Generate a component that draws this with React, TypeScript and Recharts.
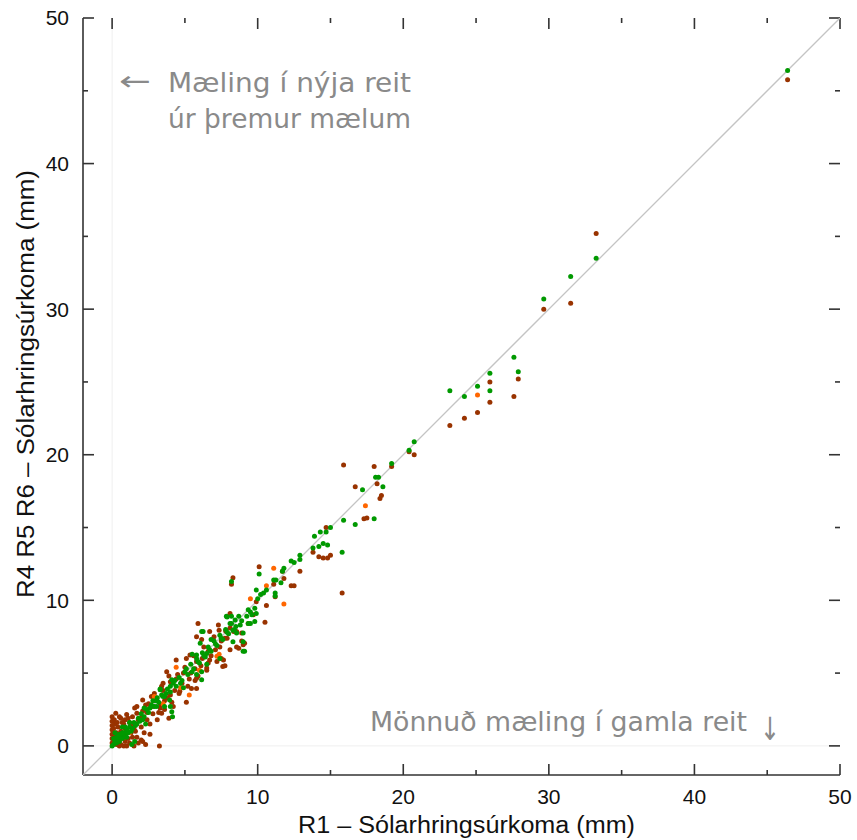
import React from "react";
import {
  ScatterChart,
  Scatter,
  XAxis,
  YAxis,
  ReferenceLine,
} from "recharts";

// colours
const BROWN = "#993300";
const ORANGE = "#ff6600";
const GREEN = "#009900";
const FRAME = "#333333";
const NOTE = "#8a8a8a";

const DOMAIN: [number, number] = [-2, 50];
const MAJOR_TICKS = [0, 10, 20, 30, 40, 50];
const MINOR_TICKS = [5, 15, 25, 35, 45];
const DIAGONAL = [
  { x: -2, y: -2 },
  { x: 50, y: 50 },
];

// inward tick length, in axis units (~11px and ~5px at this size)
const MAJOR_LEN = 0.755;
const MINOR_LEN = 0.343;

const X_TITLE = "R1 – Sólarhringsúrkoma (mm)";
const Y_TITLE = "R4 R5 R6 – Sólarhringsúrkoma (mm)";

// [R1, Rn] pairs in mm
const R4: [number, number][] = [
  [46.4, 45.75], [33.25, 35.2], [31.5, 30.4], [29.65, 30.0], [27.9, 25.2],
  [27.6, 24.0], [25.95, 25.0], [25.95, 23.6], [25.1, 22.9], [24.2, 22.5],
  [23.2, 22.0], [20.4, 20.2], [20.75, 20.0], [19.2, 19.2], [18.0, 19.2],
  [15.9, 19.3], [18.2, 18.0], [16.7, 17.8], [18.5, 17.2], [18.4, 17.0],
  [17.3, 15.6], [17.5, 15.65], [14.7, 15.0], [13.8, 13.3], [14.2, 13.0],
  [14.5, 12.9], [14.8, 12.9], [15.0, 13.1], [15.8, 10.5], [12.9, 12.0],
  [12.3, 11.0], [12.5, 11.0], [11.7, 12.0], [10.1, 12.3], [11.8, 11.5],
  [11.1, 11.1], [11.2, 10.25], [8.3, 11.55], [8.2, 11.1], [8.1, 9.1],
  [9.9, 9.9], [10.6, 9.65], [9.7, 9.0], [10.5, 8.5], [9.35, 8.4],
  [5.9, 8.4], [7.3, 8.3], [8.1, 8.1], [8.35, 7.85], [7.9, 7.4],
  [8.55, 7.85], [5.8, 7.5], [8.9, 7.2], [9.0, 6.95], [8.7, 6.7],
  [8.55, 6.8], [7.5, 6.0], [7.6, 5.45], [6.7, 5.9], [6.6, 5.7],
  [5.8, 5.8], [4.4, 5.9], [5.1, 6.0], [5.7, 4.5], [5.8, 3.95],
  [5.1, 3.0], [3.9, 1.9], [3.3, 2.6], [3.4, 2.25], [2.0, 0.4],
  [2.1, 0.3], [3.25, 0.0], [0.25, 2.25], [1.0, 2.15], [0.9, 1.8],
  [1.55, 2.6], [1.7, 2.25], [0, 0.2], [0, 0.5], [0, 0.8],
  [0, 1.1], [0, 1.4], [0, 1.7], [0, 2.0], [0.1, 0.3],
  [0.1, 1.2], [0.2, 0.6], [0.2, 1.5], [0.3, 0.1], [0.3, 0.9],
  [0.4, 1.3], [0.5, 0.0], [0.5, 0.4], [0.6, 1.0], [0.7, 1.6],
  [0.8, 0.0], [0.8, 0.6], [0.9, 1.2], [1.0, 0.0], [1.1, 0.5],
  [1.2, 1.6], [1.3, 0.9], [1.4, 2.0], [1.5, 0.0], [1.5, 1.2],
  [1.7, 0.6], [1.8, 1.8], [2.0, 1.3], [2.1, 2.4], [2.2, 0.9],
  [2.4, 1.8], [2.5, 2.9], [2.6, 1.5], [2.8, 2.2], [3.0, 3.3],
  [3.1, 1.8], [3.3, 2.9], [3.5, 3.8], [3.6, 2.5], [3.8, 3.3],
  [4.0, 4.4], [4.1, 3.0], [4.3, 3.8], [4.5, 4.9], [4.6, 3.6],
  [4.8, 4.3], [5.0, 5.4], [5.2, 4.1], [5.4, 5.0], [5.6, 6.2],
  [5.9, 4.8], [6.1, 5.5], [6.3, 6.8], [6.5, 5.2], [6.8, 6.2],
  [7.0, 7.5], [7.2, 5.8], [7.4, 6.8], [7.8, 7.9], [1.0, 1.0],
  [2.3, 2.8], [0.6, 1.9], [7.35, 7.95], [6.7, 7.85], [6.15, 7.3],
  [5.35, 6.25], [3.75, 5.1], [3.5, 4.3], [3.4, 4.1], [2.1, 3.15],
  [2.7, 3.4], [3.05, 3.15], [1.7, 2.7], [4.2, 2.7], [4.65, 3.75],
  [5.45, 3.95], [5.8, 4.65], [6.5, 5.35], [7.65, 5.9], [7.75, 5.5],
  [8.1, 6.6], [9.1, 7.05], [8.9, 7.75], [7.75, 7.4], [0.4, 0.2],
  [0.6, 0.1], [0.9, 0.3], [1.2, 0.2], [1.4, 0.6], [1.8, 0.2],
  [2.3, 0.1], [2.6, 0.8], [0.15, 1.8], [0.35, 1.6], [0.5, 2.0],
  [0.8, 1.5], [1.1, 1.9], [1.3, 1.4], [1.6, 1.0], [2.0, 1.9],
  [2.4, 2.3], [2.8, 2.7], [3.2, 2.3], [3.6, 3.1], [4.0, 3.5],
  [4.4, 4.6], [4.9, 5.0], [5.3, 4.6], [5.7, 5.3], [6.2, 6.0],
  [6.6, 6.5], [7.1, 6.6], [7.5, 7.2], [2.9, 3.6], [3.9, 4.8],
];

const R5: [number, number][] = [
  [25.1, 24.1], [17.4, 16.5], [11.1, 12.2], [10.6, 11.0], [11.8, 9.74],
  [9.5, 10.1], [7.2, 6.15], [7.35, 6.3], [4.4, 5.4], [5.3, 3.5],
  [2.9, 3.4], [1.2, 0.9], [0.5, 0.6], [3.5, 2.9], [6.0, 5.2],
  [4.7, 4.0],
];

const R6: [number, number][] = [
  [46.4, 46.4], [33.25, 33.5], [31.5, 32.25], [29.65, 30.7], [27.6, 26.7],
  [27.9, 25.7], [25.95, 25.6], [25.95, 24.4], [25.1, 24.7], [24.2, 24.0],
  [23.2, 24.4], [20.75, 20.9], [20.4, 20.3], [19.2, 19.4], [18.1, 18.45],
  [18.3, 18.45], [17.2, 17.6], [18.6, 17.8], [18.0, 15.6], [16.7, 15.2],
  [15.9, 15.5], [15.0, 15.0], [14.7, 14.7], [14.3, 14.7], [13.9, 14.4],
  [14.5, 13.9], [14.8, 13.8], [14.2, 13.7], [13.8, 13.6], [15.8, 13.3],
  [12.9, 13.1], [12.9, 12.8], [12.3, 12.7], [12.5, 12.6], [11.8, 12.2],
  [11.7, 12.0], [10.1, 11.8], [11.25, 11.4], [11.1, 11.4], [11.2, 10.5],
  [11.2, 10.3], [11.6, 11.2], [8.2, 11.3], [9.9, 10.7], [10.2, 10.4],
  [10.4, 10.5], [10.6, 10.7], [10.0, 10.1], [9.8, 9.45], [9.5, 9.2],
  [9.35, 9.35], [7.9, 8.85], [8.2, 8.9], [9.6, 9.0], [9.9, 9.1],
  [9.25, 8.9], [9.8, 8.55], [9.5, 8.4], [8.8, 8.3], [8.4, 8.0],
  [9.0, 7.75], [6.25, 7.85], [6.8, 7.3], [9.0, 6.5], [6.15, 5.1],
  [4.0, 2.7], [4.1, 2.35], [4.15, 2.0], [1.55, 0.3], [1.35, 0.1],
  [0, 0], [0.1, 0.1], [0.2, 0.3], [0.3, 0.2], [0.4, 0.5],
  [0.5, 0.3], [0.6, 0.7], [0.7, 0.5], [0.8, 0.9], [0.9, 0.7],
  [1.0, 1.1], [1.1, 0.9], [1.2, 1.3], [1.4, 1.2], [1.5, 1.6],
  [1.6, 1.4], [1.8, 1.9], [1.9, 1.7], [2.0, 2.2], [2.2, 2.0],
  [2.4, 2.5], [2.5, 2.3], [2.7, 2.8], [2.9, 2.7], [3.0, 3.1],
  [3.2, 3.0], [3.4, 3.5], [3.6, 3.4], [3.8, 3.9], [4.0, 3.7],
  [4.2, 4.3], [4.4, 4.1], [4.6, 4.7], [4.8, 4.5], [5.0, 5.1],
  [5.2, 4.9], [5.4, 5.6], [5.6, 5.3], [5.8, 6.0], [6.0, 5.7],
  [6.2, 6.4], [6.4, 6.1], [6.6, 6.8], [6.8, 6.5], [7.0, 7.2],
  [7.2, 6.9], [7.4, 7.6], [7.6, 7.3], [7.8, 8.0], [8.0, 7.7],
  [8.2, 8.4], [8.5, 8.2], [8.7, 8.9], [8.9, 8.6], [5.5, 6.3],
  [3.3, 3.9], [2.3, 1.5], [4.9, 4.0], [6.5, 5.6], [0.2, 0.9],
  [0.7, 1.3], [7.85, 8.9], [8.1, 8.4], [8.45, 8.65], [9.35, 8.4],
  [8.3, 7.95], [8.55, 7.75], [9.0, 7.15], [9.1, 6.5], [8.3, 7.15],
  [6.15, 7.85], [6.05, 7.05], [6.5, 6.35], [5.8, 6.25], [7.4, 6.0],
  [5.8, 4.9], [6.15, 4.55], [4.1, 4.55], [4.0, 4.1], [3.3, 3.85],
  [3.5, 3.4], [3.95, 3.15], [3.6, 2.7], [3.05, 2.7], [0.1, 0.5],
  [0.3, 0.6], [0.5, 0.8], [0.7, 0.9], [1.0, 0.6], [1.3, 1.0],
  [1.7, 1.5], [2.1, 1.8], [2.6, 2.6], [3.1, 3.3], [3.7, 3.6],
  [4.3, 4.5], [4.7, 4.3], [5.1, 5.3], [5.5, 5.1], [5.9, 5.8],
  [6.3, 6.2], [6.7, 6.6], [7.1, 7.0], [7.5, 7.4], [7.9, 7.8],
  [2.2, 2.6], [2.8, 3.1], [1.2, 1.6], [0.9, 1.3],
];

const toPoints = (rows: [number, number][]) =>
  rows.map(([x, y]) => ({ x, y }));

const [LO, HI] = DOMAIN;

// tick marks on all four sides of the box, pointing inwards
const tickSegments = [
  ...MAJOR_TICKS.map((t) => ({ t, len: MAJOR_LEN })),
  ...MINOR_TICKS.map((t) => ({ t, len: MINOR_LEN })),
].flatMap(({ t, len }) => [
  [{ x: t, y: LO }, { x: t, y: LO + len }],
  [{ x: t, y: HI }, { x: t, y: HI - len }],
  [{ x: LO, y: t }, { x: LO + len, y: t }],
  [{ x: HI, y: t }, { x: HI - len, y: t }],
]);

const tickFont = {
  fontFamily: "'Liberation Sans', Arial, sans-serif",
  fontSize: 21,
  fill: "#111",
};

const frameLine = { stroke: FRAME, strokeWidth: 1.6 };

const dot = (color: string) => (props: any) =>
  <circle cx={props.cx} cy={props.cy} r={2.5} fill={color} />;

const noteStyle = {
  fontFamily: "'DejaVu Sans', sans-serif",
  fontSize: 27,
  fill: NOTE,
};

const titleStyle = {
  fontFamily: "'Liberation Sans', Arial, sans-serif",
  fontSize: 23,
  fill: "#111",
};

export default function App() {
  return (
    <div style={{ position: "absolute", left: 0, top: 0, width: 857, height: 840 }}>
      <ScatterChart
        width={857}
        height={840}
        margin={{ top: 18, right: 17, bottom: 0, left: 0 }}
      >
        <XAxis
          type="number"
          dataKey="x"
          domain={DOMAIN}
          ticks={MAJOR_TICKS}
          allowDataOverflow
          interval={0}
          height={65}
          tickSize={0}
          tickMargin={14}
          tickLine={false}
          tick={tickFont}
          axisLine={frameLine}
        />
        <YAxis
          type="number"
          dataKey="y"
          domain={DOMAIN}
          ticks={MAJOR_TICKS}
          allowDataOverflow
          interval={0}
          width={83}
          tickSize={0}
          tickMargin={14}
          tickLine={false}
          tick={tickFont}
          axisLine={frameLine}
        />
        <XAxis
          xAxisId="top"
          orientation="top"
          type="number"
          dataKey="x"
          domain={DOMAIN}
          allowDataOverflow
          height={0}
          tick={false}
          tickLine={false}
          axisLine={frameLine}
        />
        <YAxis
          yAxisId="right"
          orientation="right"
          type="number"
          dataKey="y"
          domain={DOMAIN}
          allowDataOverflow
          width={0}
          tick={false}
          tickLine={false}
          axisLine={frameLine}
        />
        <ReferenceLine x={0} stroke="#efefef" strokeWidth={1} />
        <ReferenceLine y={0} stroke="#efefef" strokeWidth={1} />
        {/* the frame ticks go on the top/right axes (same domain), which draw reliably */}
        {tickSegments.map((seg, i) => (
          <ReferenceLine
            key={i}
            xAxisId="top"
            yAxisId="right"
            segment={seg}
            ifOverflow="visible"
            stroke={FRAME}
            strokeWidth={1.6}
          />
        ))}
        <Scatter
          data={DIAGONAL}
          xAxisId="top"
          yAxisId="right"
          line={{ stroke: "#c4c4c4", strokeWidth: 1.3 }}
          shape={() => <g />}
          isAnimationActive={false}
        />
        <Scatter name="R4" data={toPoints(R4)} shape={dot(BROWN)} isAnimationActive={false} />
        <Scatter name="R5" data={toPoints(R5)} shape={dot(ORANGE)} isAnimationActive={false} />
        <Scatter name="R6" data={toPoints(R6)} shape={dot(GREEN)} isAnimationActive={false} />
      </ScatterChart>
      <svg
        width={857}
        height={840}
        style={{ position: "absolute", left: 0, top: 0, pointerEvents: "none" }}
      >
        <text x={466.5} y={833} textAnchor="middle" textLength={337} lengthAdjust="spacingAndGlyphs" {...titleStyle}>
          {X_TITLE}
        </text>
        <text
          transform="translate(34,384) rotate(-90)"
          textAnchor="middle"
          textLength={428}
          lengthAdjust="spacingAndGlyphs"
          {...titleStyle}
        >
          {Y_TITLE}
        </text>
        <text x={119} y={90} textLength={32} lengthAdjust="spacingAndGlyphs" {...noteStyle}>←</text>
        <text x={168} y={92} textLength={243} lengthAdjust="spacingAndGlyphs" {...noteStyle}>
          Mæling í nýja reit
        </text>
        <text x={168} y={128} textLength={243} lengthAdjust="spacingAndGlyphs" {...noteStyle}>
          úr þremur mælum
        </text>
        <text x={370} y={731} textLength={377} lengthAdjust="spacingAndGlyphs" {...noteStyle}>
          Mönnuð mæling í gamla reit
        </text>
        <text x={760} y={740} textLength={20} lengthAdjust="spacingAndGlyphs" {...noteStyle} fontSize={32}>↓</text>
      </svg>
    </div>
  );
}
